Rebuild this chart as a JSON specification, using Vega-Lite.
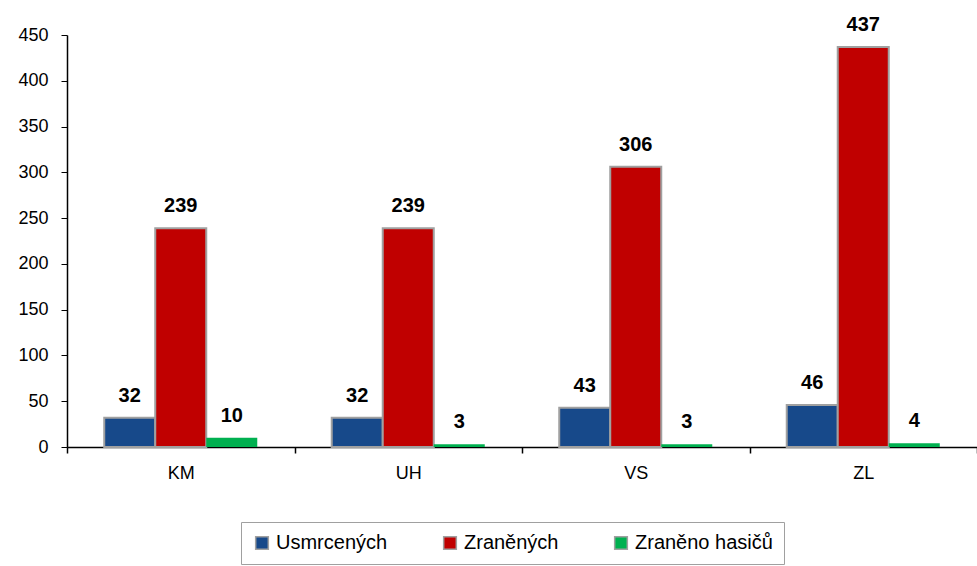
{
  "$schema": "https://vega.github.io/schema/vega-lite/v6.json",
  "autosize": {"type": "none"},
  "padding": {"left": 67, "top": 35, "right": 0, "bottom": 119},
  "width": 910,
  "height": 412,
  "background": "white",
  "config": {
    "view": {"stroke": null},
    "font": "Liberation Sans, Arial, sans-serif"
  },
  "data": {
    "values": [
      {"region": "KM", "series": "Usmrcených", "value": 32},
      {"region": "KM", "series": "Zraněných", "value": 239},
      {"region": "KM", "series": "Zraněno hasičů", "value": 10},
      {"region": "UH", "series": "Usmrcených", "value": 32},
      {"region": "UH", "series": "Zraněných", "value": 239},
      {"region": "UH", "series": "Zraněno hasičů", "value": 3},
      {"region": "VS", "series": "Usmrcených", "value": 43},
      {"region": "VS", "series": "Zraněných", "value": 306},
      {"region": "VS", "series": "Zraněno hasičů", "value": 3},
      {"region": "ZL", "series": "Usmrcených", "value": 46},
      {"region": "ZL", "series": "Zraněných", "value": 437},
      {"region": "ZL", "series": "Zraněno hasičů", "value": 4}
    ]
  },
  "encoding": {
    "x": {
      "field": "region", "type": "nominal", "title": null,
      "scale": {"paddingInner": 0, "paddingOuter": 0},
      "axis": {
        "tickBand": "extent", "labelAngle": 0, "labelFontSize": 18, "labelColor": "black",
        "domainColor": "black", "domainWidth": 1.5, "tickColor": "black", "tickWidth": 1.5,
        "tickSize": 6, "labelPadding": 11, "labelBaseline": "top",
        "labelAlign": "center", "grid": false
      }
    },
    "xOffset": {
      "field": "series", "type": "nominal",
      "scale": {"domain": ["Usmrcených", "Zraněných", "Zraněno hasičů"], "paddingInner": 0, "paddingOuter": 0.73}
    },
    "y": {
      "field": "value", "type": "quantitative", "title": null,
      "scale": {"domain": [0, 450], "nice": false},
      "axis": {
        "values": [0, 50, 100, 150, 200, 250, 300, 350, 400, 450],
        "grid": false, "labelFontSize": 18, "labelColor": "black",
        "domainColor": "black", "domainWidth": 1.5, "tickColor": "black", "tickSize": 6,
        "labelPadding": 13
      }
    }
  },
  "layer": [
    {
      "mark": {"type": "bar", "strokeWidth": 2},
      "encoding": {
        "color": {
          "field": "series", "type": "nominal", "title": null,
          "scale": {"domain": ["Usmrcených", "Zraněných", "Zraněno hasičů"], "range": ["#17498A", "#C00000", "#00B050"]},
          "legend": {
            "orient": "none", "legendX": 174, "legendY": 487, "direction": "horizontal",
            "labelFontSize": 20, "labelColor": "black", "symbolType": "square", "symbolSize": 160,
            "symbolOpacity": 1, "columnPadding": 52, "labelOffset": 4,
            "padding": 11, "strokeColor": "#A0A0A0", "fillColor": "white",
            "symbolStrokeColor": "#A0A0A0", "symbolStrokeWidth": 1.5
          }
        },
        "stroke": {
          "condition": {"test": "datum.series === 'Zraněno hasičů'", "value": "transparent"},
          "value": "#A0A0A0"
        }
      }
    },
    {
      "mark": {"type": "text", "dy": -16, "baseline": "alphabetic", "fontWeight": "bold", "fontSize": 20, "color": "black"},
      "encoding": {"text": {"field": "value", "type": "quantitative"}}
    }
  ]
}
